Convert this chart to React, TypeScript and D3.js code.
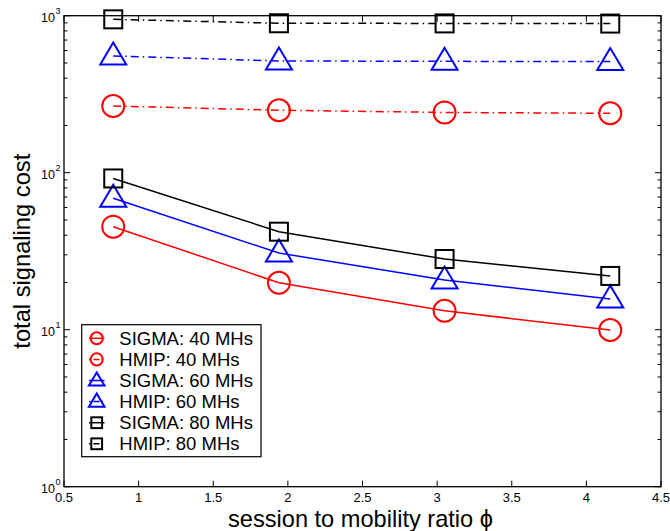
import React from "react";
import * as d3 from "d3";

const phi = [0.83, 1.94, 3.05, 4.16];
const sigma40 = [45.3, 19.9, 13.2, 9.95];
const hmip40 = [266, 250, 242, 239];
const sigma60 = [68.7, 30.8, 20.7, 15.7];
const hmip60 = [554, 515, 512, 510];
const sigma80 = [91.9, 42.1, 28.2, 22.0];
const hmip80 = [948, 895, 893, 891];

const xTicks = [0.5, 1, 1.5, 2, 2.5, 3, 3.5, 4, 4.5];
const xTickLabels = ["0.5", "1", "1.5", "2", "2.5", "3", "3.5", "4", "4.5"];
const yDecades = [1, 10, 100, 1000];
const yExponents = ["0", "1", "2", "3"];

const seriesNames = [
  "SIGMA: 40 MHs",
  "HMIP: 40 MHs",
  "SIGMA: 60 MHs",
  "HMIP: 60 MHs",
  "SIGMA: 80 MHs",
  "HMIP: 80 MHs",
];

type Series = { name: string; values: number[]; color: string; marker: string; dashed: boolean };

const series: Series[] = [
  { name: seriesNames[0], values: sigma40, color: "#ff0000", marker: "circle", dashed: false },
  { name: seriesNames[1], values: hmip40, color: "#ff0000", marker: "circle", dashed: true },
  { name: seriesNames[2], values: sigma60, color: "#0000ff", marker: "triangle", dashed: false },
  { name: seriesNames[3], values: hmip60, color: "#0000ff", marker: "triangle", dashed: true },
  { name: seriesNames[4], values: sigma80, color: "#000000", marker: "square", dashed: false },
  { name: seriesNames[5], values: hmip80, color: "#000000", marker: "square", dashed: true },
];

const L = 64, R = 661, T = 15.7, B = 486.7;
const FONT = "'Liberation Sans', Arial, Helvetica, sans-serif";

function Marker({ kind, x, y, color, s }: { kind: string; x: number; y: number; color: string; s: number }) {
  if (kind === "circle") {
    return <circle cx={x} cy={y} r={11 * s} fill="none" stroke={color} strokeWidth={2} />;
  }
  if (kind === "triangle") {
    const p = `${x},${y - 13.5 * s} ${x - 13 * s},${y + 8.5 * s} ${x + 13 * s},${y + 8.5 * s}`;
    return <polygon points={p} fill="none" stroke={color} strokeWidth={2} />;
  }
  return <rect x={x - 9 * s} y={y - 9 * s} width={18 * s} height={18 * s} fill="none" stroke={color} strokeWidth={2} />;
}

const legendScale: Record<string, number> = { circle: 0.55, triangle: 0.6, square: 0.6 };

export default function App() {
  const x = d3.scaleLinear().domain([0.5, 4.5]).range([L, R]);
  const y = d3.scaleLog().domain([1, 1000]).range([B, T]);
  const line = d3
    .line<number>()
    .x((_, i) => x(phi[i]))
    .y((v) => y(v));

  const minor: number[] = [];
  for (let d = 0; d < 3; d++) {
    for (let k = 2; k <= 9; k++) minor.push(k * Math.pow(10, d));
  }

  const legX = 81.7, legY = 324.7, legW = 179.3, legH = 132;
  const rowY = (i: number) => 338.3 + i * 21.1;

  return (
    <svg
      width={670}
      height={531}
      style={{ position: "absolute", left: 0, top: 0, background: "#fff" }}
      fontFamily={FONT}
    >
      <rect x={0} y={0} width={670} height={531} fill="#fff" />
      {/* frame */}
      <rect x={L} y={T} width={R - L} height={B - T} fill="none" stroke="#000" strokeWidth={1.3} />
      {/* x ticks */}
      {xTicks.map((t, i) => (
        <g key={"xt" + i}>
          <line x1={x(t)} x2={x(t)} y1={B} y2={B - 6} stroke="#000" strokeWidth={1} />
          <line x1={x(t)} x2={x(t)} y1={T} y2={T + 6} stroke="#000" strokeWidth={1} />
          <text x={x(t)} y={502.3} fontSize={13} textAnchor="middle" fill="#000">
            {xTickLabels[i]}
          </text>
        </g>
      ))}
      {/* y major ticks */}
      {yDecades.map((t, i) => (
        <g key={"yt" + i}>
          <line x1={L} x2={L + 6} y1={y(t)} y2={y(t)} stroke="#000" strokeWidth={1} />
          <line x1={R} x2={R - 6} y1={y(t)} y2={y(t)} stroke="#000" strokeWidth={1} />
          <text x={55} y={y(t) + 6} fontSize={12.5} textAnchor="end" fill="#000">
            10
          </text>
          <text x={55.5} y={y(t) - 1.5} fontSize={9} textAnchor="start" fill="#000">
            {yExponents[i]}
          </text>
        </g>
      ))}
      {/* y minor ticks */}
      {minor.map((t, i) => (
        <g key={"ym" + i}>
          <line x1={L} x2={L + 3.5} y1={y(t)} y2={y(t)} stroke="#000" strokeWidth={1} />
          <line x1={R} x2={R - 3.5} y1={y(t)} y2={y(t)} stroke="#000" strokeWidth={1} />
        </g>
      ))}
      {/* series lines */}
      {series.map((s, i) => (
        <path
          key={"l" + i}
          d={line(s.values) || ""}
          fill="none"
          stroke={s.color}
          strokeWidth={1.5}
          strokeDasharray={s.dashed ? "8,4,1.5,4" : undefined}
        />
      ))}
      {/* markers */}
      {series.map((s, i) =>
        s.values.map((v, j) => (
          <Marker key={"m" + i + "_" + j} kind={s.marker} x={x(phi[j])} y={y(v)} color={s.color} s={1} />
        ))
      )}
      {/* axis titles */}
      <text x={228} y={527} fontSize={23.6} fill="#000">
        session to mobility ratio ϕ
      </text>
      <text
        transform={`translate(29.5,${(T + B) / 2}) rotate(-90)`}
        fontSize={23.7}
        textAnchor="middle"
        fill="#000"
      >
        total signaling cost
      </text>
      {/* legend */}
      <rect x={legX} y={legY} width={legW} height={legH} fill="#fff" stroke="#000" strokeWidth={1.2} />
      {series.map((s, i) => (
        <g key={"lg" + i}>
          <line
            x1={89}
            x2={104.5}
            y1={rowY(i)}
            y2={rowY(i)}
            stroke={s.color}
            strokeWidth={1.5}
            strokeDasharray={s.dashed ? "1.5,3,6,2" : undefined}
          />
          <Marker kind={s.marker} x={96.7} y={rowY(i)} color={s.color} s={legendScale[s.marker]} />
          <text x={119.3} y={rowY(i) + 6.4} fontSize={18.5} fill="#000">
            {s.name}
          </text>
        </g>
      ))}
    </svg>
  );
}
